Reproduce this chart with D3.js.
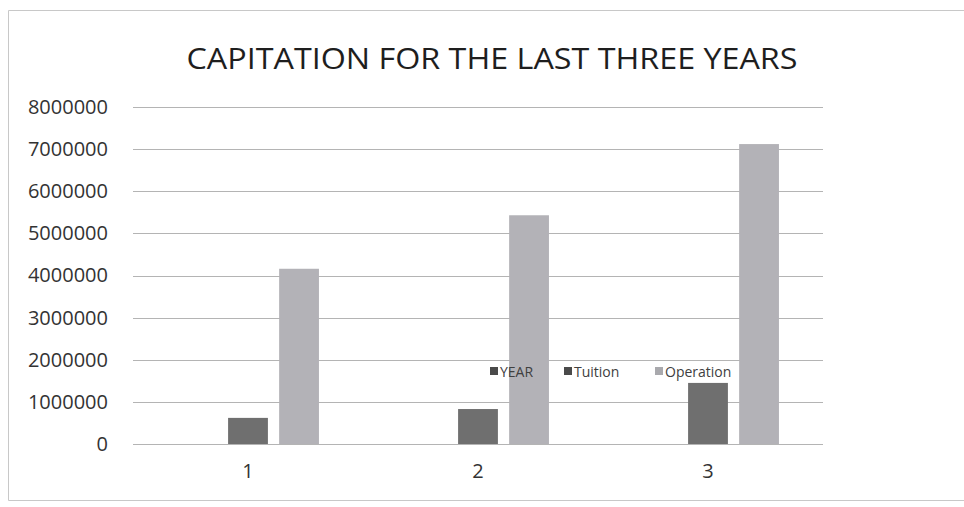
<!DOCTYPE html>
<html><head><meta charset="utf-8">
<script src="https://cdn.jsdelivr.net/npm/d3@7"></script>
<style>
html,body{margin:0;padding:0;background:#fff;}
svg{display:block;}
text{font-family:"Open Sans",sans-serif;}
</style></head>
<body>
<svg id="chart" width="964" height="507"></svg>
<script>
const title = "CAPITATION FOR THE LAST THREE YEARS";
const categories = ["1", "2", "3"];
const seriesNames = ["YEAR", "Tuition", "Operation"];
const yearValues = [1, 2, 3];
const tuitionValues = [620000, 830000, 1450000];
const operationValues = [4160000, 5430000, 7120000];
const yTicks = [0, 1000000, 2000000, 3000000, 4000000, 5000000, 6000000, 7000000, 8000000];
const seriesColors = ["#5a5a5a", "#6f6f6f", "#b3b2b7"];
const legendColors = ["#4a4a4a", "#4a4a4a", "#a9a9ad"];

const seriesValues = [yearValues, tuitionValues, operationValues];
const svg = d3.select("#chart");

// outer border (scanned chart frame)
svg.append("path").attr("d", "M964,10.5 H8.5 V500.5 H964")
  .attr("fill", "none").attr("stroke", "#c8c8c8").attr("stroke-width", 1);

const margin = {left: 133, right: 141, top: 107, bottom: 63};
const W = 964, H = 507;
const x = d3.scaleBand().domain(categories).range([margin.left, W - margin.right])
  .paddingInner(0.383).paddingOuter(0.1915);
const xs = d3.scaleBand().domain(seriesNames).range([0, x.bandwidth()]).paddingInner(0.22);
const y = d3.scaleLinear().domain([0, 8000000]).range([H - margin.bottom, margin.top]);

// gridlines
svg.append("g").selectAll("line").data(yTicks).join("line")
  .attr("x1", margin.left).attr("x2", W - margin.right)
  .attr("y1", d => Math.round(y(d)) + 0.5).attr("y2", d => Math.round(y(d)) + 0.5)
  .attr("stroke", "#b4b4b4").attr("stroke-width", 1);

// y axis labels
const yAxis = d3.axisLeft(y).tickValues(yTicks).tickSize(0).tickPadding(0).tickFormat(d3.format("d"));
const gy = svg.append("g").attr("transform", "translate(108,0)").call(yAxis);
gy.select(".domain").remove();
gy.selectAll("text").attr("font-family", "Open Sans").attr("font-size", 20).attr("fill", "#333");

// x axis labels
const xAxis = d3.axisBottom(x).tickSize(0).tickPadding(0);
const gx = svg.append("g").attr("transform", `translate(${xs("Tuition") + xs.bandwidth()/2 - x.bandwidth()/2},464)`).call(xAxis);
gx.select(".domain").remove();
gx.selectAll("text").attr("font-family", "Open Sans").attr("font-size", 20).attr("fill", "#333");

// bars
seriesNames.forEach((s, si) => {
  svg.append("g").selectAll("rect").data(seriesValues[si]).join("rect")
    .attr("x", (d, i) => x(categories[i]) + xs(s))
    .attr("width", xs.bandwidth())
    .attr("y", d => y(d))
    .attr("height", d => y(0) - y(d))
    .attr("fill", seriesColors[si]);
});

// title
svg.append("text").attr("x", 492).attr("y", 69).attr("text-anchor", "middle")
  .attr("font-family", "Open Sans").attr("font-size", 30).attr("fill", "#1e1e1e")
  .attr("textLength", 611).attr("lengthAdjust", "spacingAndGlyphs").text(title);

// legend
const legendX = [490, 564, 655];
const lg = svg.append("g");
seriesNames.forEach((s, i) => {
  lg.append("rect").attr("x", legendX[i]).attr("y", 367).attr("width", 8).attr("height", 8).attr("fill", legendColors[i]);
  lg.append("text").attr("x", legendX[i] + 10).attr("y", 376.5)
    .attr("font-family", "Open Sans").attr("font-size", 14).attr("fill", "#404040").text(s);
});
</script>
</body></html>
